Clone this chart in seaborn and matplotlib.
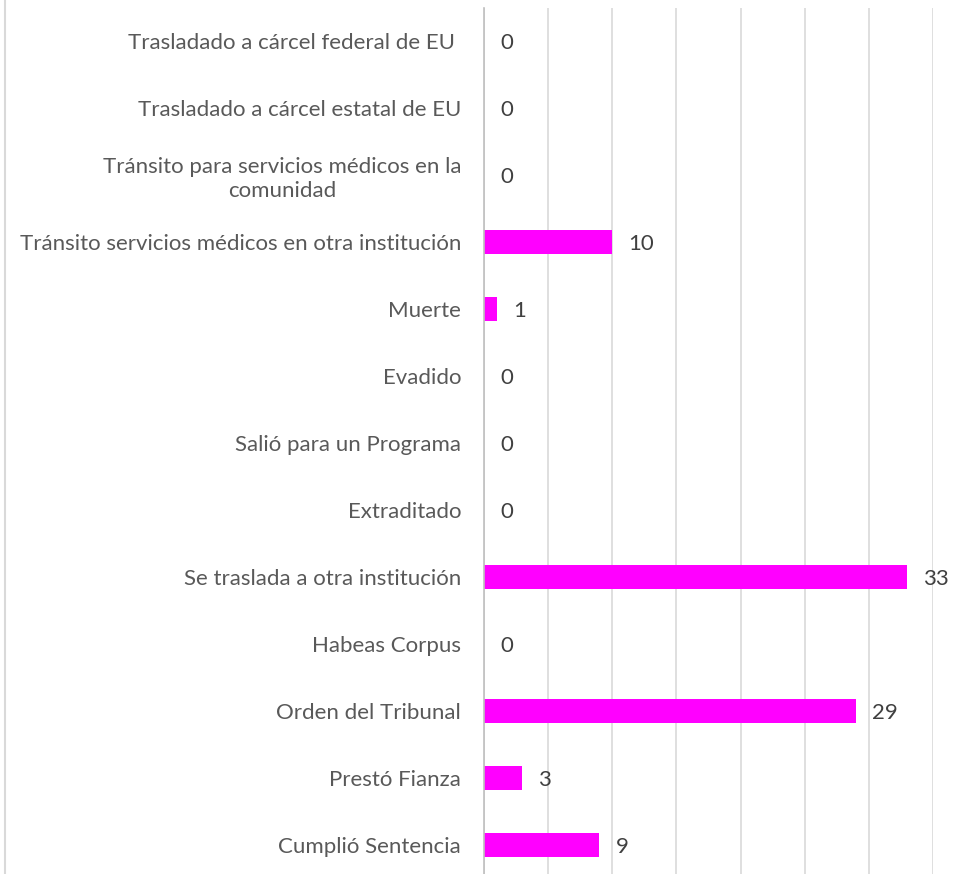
import matplotlib
matplotlib.use("Agg")
import matplotlib.pyplot as plt
import seaborn as sns
import pandas as pd
from matplotlib.lines import Line2D

categories = [
    "Trasladado a cárcel federal de EU ",
    "Trasladado a cárcel estatal de EU",
    "Tránsito para servicios médicos en la\ncomunidad",
    "Tránsito servicios médicos en otra institución",
    "Muerte",
    "Evadido",
    "Salió para un Programa",
    "Extraditado",
    "Se traslada a otra institución",
    "Habeas Corpus",
    "Orden del Tribunal",
    "Prestó Fianza",
    "Cumplió Sentencia",
]
values = [0, 0, 0, 10, 1, 0, 0, 0, 33, 0, 29, 3, 9]

df = pd.DataFrame({"cat": categories, "val": values})

sns.set_style("white")
plt.rcParams["font.family"] = ["Lato", "DejaVu Sans"]

W, H = 955, 874
fig = plt.figure(figsize=(W / 100, H / 100), dpi=100)
ax = fig.add_axes([484 / W, 0, (933 - 484) / W, (874 - 8) / H])

sns.barplot(data=df, x="val", y="cat", orient="h", color="#FF00FF",
            width=0.35, linewidth=0, ax=ax, saturation=1)

ax.set_xlim(0, 35)
ax.set_ylim(12.43, -0.49)
ax.set_xticks(range(0, 36, 5))
ax.set_xticklabels([])
ax.tick_params(axis="x", length=0)
ax.tick_params(axis="y", length=0, pad=16.5, labelsize=16, labelcolor="#595959")
ax.grid(axis="x", color="#D9D9D9", linewidth=1.2)
ax.set_axisbelow(True)
for s in ["top", "right", "bottom"]:
    ax.spines[s].set_visible(False)
ax.spines["left"].set_color("#BFBFBF")
ax.spines["left"].set_linewidth(1.2)
ax.set_xlabel("")
ax.set_ylabel("")

for lbl in ax.get_yticklabels():
    lbl.set_multialignment("center")
    lbl.set_linespacing(1.25)

for i, v in enumerate(values):
    ax.annotate(str(v), xy=(v, i), xytext=(11.5, -1.5), textcoords="offset points",
                ha="left", va="center", fontsize=16, color="#404040")

fig.add_artist(Line2D([4.5 / W, 4.5 / W], [0, 1], transform=fig.transFigure,
                      color="#D9D9D9", linewidth=1.5))

fig.savefig("out.png", dpi=100, facecolor="white")
